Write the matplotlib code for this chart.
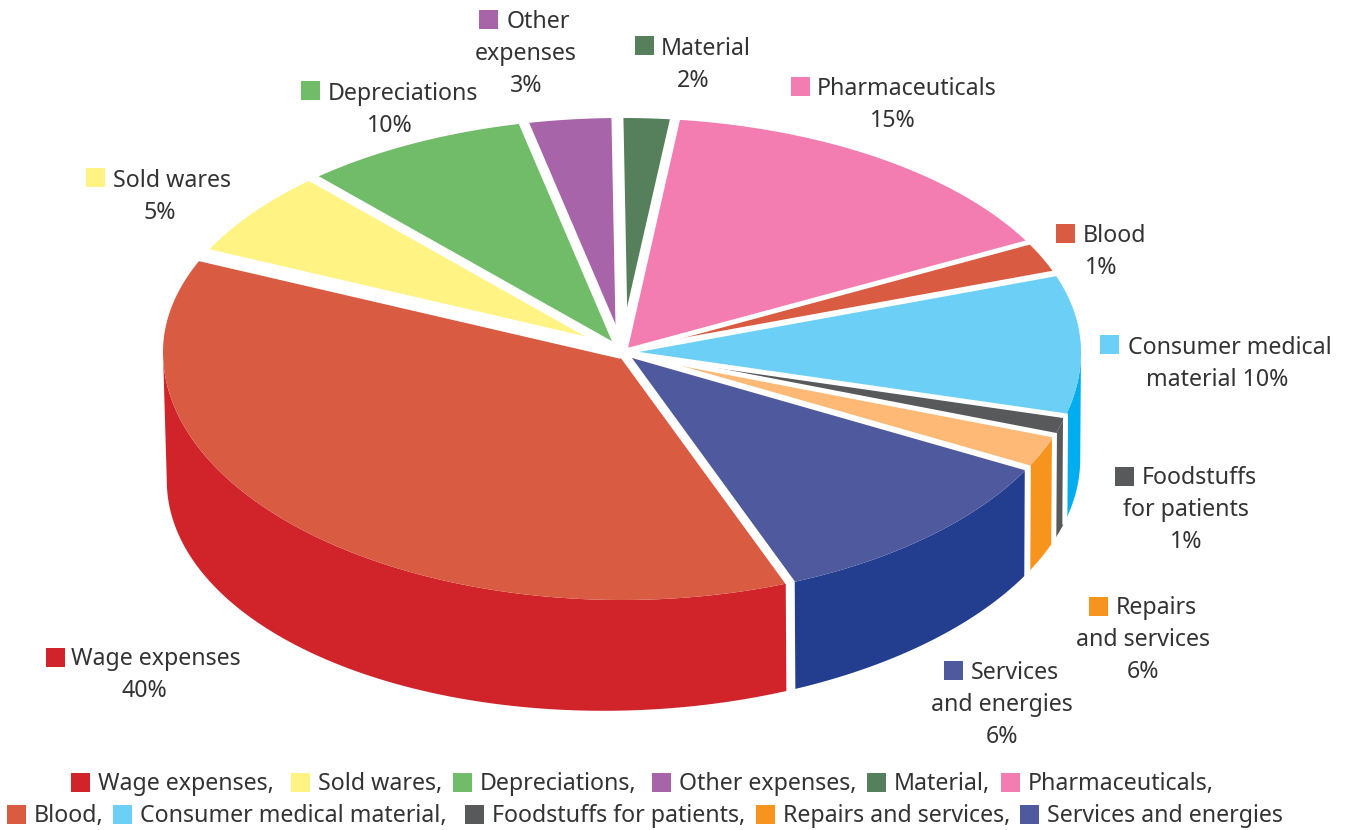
import numpy as np
import matplotlib
matplotlib.use("Agg")
import matplotlib.pyplot as plt
from matplotlib.patches import Polygon, Rectangle

plt.rcParams['font.family'] = ['Noto Sans', 'DejaVu Sans']

# --- data -----------------------------------------------------------------
categories = ["Wage expenses", "Sold wares", "Depreciations", "Other expenses", "Material",
              "Pharmaceuticals", "Blood", "Consumer medical material",
              "Foodstuffs for patients", "Repairs and services", "Services and energies"]
# share of the circle as drawn in the picture (%)
drawn_share = [37.8, 6.5, 8.3, 3.27, 2.0, 15.43, 2.3, 9.6, 1.3, 2.3, 11.3]
# percentages as printed on the labels
printed_pct = [40, 5, 10, 3, 2, 15, 1, 10, 1, 6, 6]

top_colors = ["#D95B41", "#FFF483", "#71BC68", "#A864A8", "#56805C", "#F37CB1",
              "#D95B41", "#6BCFF6", "#58595B", "#FDB975", "#4F5A9E"]
side_colors = ["#D1232A", "#FFF483", "#71BC68", "#A864A8", "#56805C", "#F37CB1",
               "#D95B41", "#00AEEF", "#58595B", "#F7941D", "#243E8F"]
key_colors = ["#D1232A", "#FFF483", "#71BC68", "#A864A8", "#56805C", "#F37CB1",
              "#D95B41", "#6BCFF6", "#58595B", "#F7941D", "#4F5A9E"]
# white gap (px) on the leading edge of each slice
gap_px = [9, 14, 9, 10, 12, 10, 5, 6, 5, 5, 6]

# label layout: (square x, square y, [(line, x, y, align), ...])
label_layout = [
    (55, 657, [("Wage expenses", 71, 657, 'left'), ("{}%", 144, 689, 'center')]),
    (95, 178, [("Sold wares", 113, 179, 'left'), ("{}%", 160, 211, 'center')]),
    (310, 91, [("Depreciations", 328, 92, 'left'), ("{}%", 390, 124, 'center')]),
    (488, 20, [("Other", 507, 20, 'left'), ("expenses", 526, 52, 'center'), ("{}%", 526, 84, 'center')]),
    (644, 46, [("Material", 661, 47, 'left'), ("{}%", 693, 79, 'center')]),
    (800, 87, [("Pharmaceuticals", 817, 87, 'left'), ("{}%", 893, 119, 'center')]),
    (1065, 233, [("Blood", 1083, 234, 'left'), ("{}%", 1101, 266, 'center')]),
    (1109, 345, [("Consumer medical", 1128, 346, 'left'), ("material {}%", 1217, 378, 'center')]),
    (1124, 476, [("Foodstuffs", 1142, 476, 'left'), ("for patients", 1186, 508, 'center'), ("{}%", 1186, 540, 'center')]),
    (1098, 606, [("Repairs", 1116, 606, 'left'), ("and services", 1143, 638, 'center'), ("{}%", 1143, 670, 'center')]),
    (953, 670, [("Services", 971, 671, 'left'), ("and energies", 1002, 703, 'center'), ("{}%", 1002, 735, 'center')]),
]
# legend layout: (category index, square x, row y)
legend_layout = [(0, 80, 782), (1, 300, 782), (2, 462, 782), (3, 661, 782), (4, 876, 782), (5, 1010, 782),
                 (6, 16, 814), (7, 122, 814), (8, 474, 814), (9, 765, 814), (10, 1029, 814)]

# --- geometry parameters ----------------------------------------------------
CX, CY = 622, 352
RX, RY_BACK, RY_FRONT = 459, 234, 248
START = 158.5      # clockwise from 12 o'clock
FS = 16.7
TXT = "#333333"

fig = plt.figure(figsize=(13.5, 8.3), dpi=100)
ax = fig.add_axes([0, 0, 1, 1])
ax.set_xlim(0, 1350)
ax.set_ylim(830, 0)
ax.axis('off')


def rim(theta):
    s, c = np.sin(theta), np.cos(theta)
    return RX * s, np.where(c > 0, -RY_BACK * c, -RY_FRONT * c)


def drop(dx, dy):
    """Lower face of the disc from a point of the upper one."""
    return dx * 0.995 + 1.5, dy + 118 - 0.023 * dx - 0.03 * dy


sweeps = np.array(drawn_share) / sum(drawn_share) * 2 * np.pi
ends = np.radians(START) + np.cumsum(sweeps)
starts = ends - sweeps

# outer walls (front half only)
for i in range(len(starts)):
    t = np.linspace(starts[i], ends[i], 300)
    t = t[np.cos(t) <= 0]
    if t.size < 2:
        continue
    dx, dy = rim(t)
    bx, by = drop(dx, dy)
    xs = np.r_[dx, bx[::-1]] + CX
    ys = np.r_[dy, by[::-1]] + CY
    ax.add_patch(Polygon(np.c_[xs, ys], closed=True, fc=side_colors[i], ec='none', zorder=2))

# top faces
for i in range(len(starts)):
    t = np.linspace(starts[i], ends[i], 200)
    dx, dy = rim(t)
    ax.add_patch(Polygon(np.c_[np.r_[0, dx] + CX, np.r_[0, dy] + CY], closed=True,
                         fc=top_colors[i], ec='none', zorder=3))

# white gaps along the slice edges, continued down the walls at the front
for i in range(len(starts)):
    a = starts[i]
    dx, dy = rim(np.array(a))
    if np.cos(a) <= 0:
        bx, by = drop(dx, dy)
        px = [CX, CX + dx, CX + bx]
        py = [CY, CY + dy, CY + by + 3]
    else:
        px = [CX, CX + dx * 1.03]
        py = [CY, CY + dy * 1.03]
    ax.plot(px, py, color='white', lw=gap_px[i] * 0.72, zorder=4,
            solid_capstyle='butt', solid_joinstyle='miter')


def key(x, y, color):
    ax.add_patch(Rectangle((x - 9.5, y - 9.5), 19, 19, fc=color, ec='none', zorder=5))


for i, (sx, sy, lines) in enumerate(label_layout):
    key(sx, sy, key_colors[i])
    for s, x, y, ha in lines:
        ax.text(x, y + 8, s.format(printed_pct[i]), ha=ha, va='baseline',
                fontsize=FS, color=TXT, zorder=6)

for i, sx, y in legend_layout:
    key(sx, y, key_colors[i])
    name = categories[i] + ("," if i != len(categories) - 1 else "")
    ax.text(sx + 18, y + 8, name, ha='left', va='baseline', fontsize=FS, color=TXT, zorder=6)

fig.savefig("out.png", dpi=100)
